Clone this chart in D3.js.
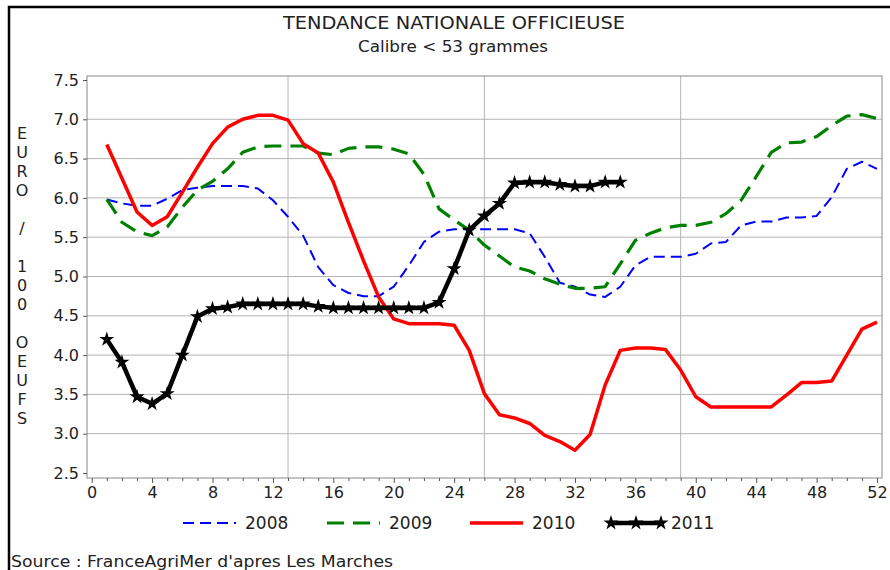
<!DOCTYPE html>
<html>
<head>
<meta charset="utf-8">
<script src="https://cdn.jsdelivr.net/npm/d3@7"></script>
<style>
  body { margin: 0; background: #fff; }
  text { font-family: "DejaVu Sans", sans-serif; fill: #222; }
</style>
</head>
<body>
<div id="chart"></div>
<script>
// weeks and prices (euro / 100 eggs)
var weeks = [1,2,3,4,5,6,7,8,9,10,11,12,13,14,15,16,17,18,19,20,21,22,23,24,25,26,
             27,28,29,30,31,32,33,34,35,36,37,38,39,40,41,42,43,44,45,46,47,48,49,50,51,52];

var v2008 = [5.98,5.93,5.9,5.9,5.99,6.1,6.13,6.15,6.15,6.15,
             6.12,5.97,5.76,5.52,5.12,4.89,4.79,4.75,4.75,4.87,
             5.14,5.44,5.57,5.6,5.6,5.6,5.6,5.6,5.55,5.25,
             4.92,4.87,4.77,4.74,4.87,5.14,5.25,5.25,5.25,5.29,
             5.42,5.44,5.65,5.7,5.7,5.75,5.75,5.77,6.01,6.37,
             6.46,6.37];
var v2009 = [5.98,5.69,5.57,5.52,5.63,5.88,6.1,6.21,6.37,6.58,
             6.65,6.66,6.66,6.66,6.57,6.55,6.63,6.65,6.65,6.62,
             6.56,6.3,5.86,5.72,5.59,5.4,5.26,5.12,5.07,4.97,
             4.9,4.85,4.85,4.87,5.16,5.46,5.55,5.62,5.65,5.65,
             5.69,5.8,5.97,6.27,6.58,6.7,6.71,6.78,6.92,7.04,
             7.06,7.01];
var v2010 = [6.68,6.25,5.82,5.65,5.76,6.07,6.39,6.69,6.9,7.0,
             7.05,7.05,6.99,6.69,6.57,6.2,5.69,5.2,4.74,4.46,
             4.4,4.4,4.4,4.38,4.06,3.51,3.24,3.2,3.13,2.98,
             2.9,2.79,2.99,3.62,4.06,4.09,4.09,4.07,3.81,3.47,
             3.34,3.34,3.34,3.34,3.34,3.49,3.65,3.65,3.67,4.0,
             4.33,4.42];
var v2011 = [4.2,3.91,3.47,3.38,3.51,4.0,4.49,4.59,4.61,4.65,
             4.65,4.65,4.65,4.65,4.62,4.6,4.6,4.6,4.6,4.6,
             4.6,4.6,4.67,5.1,5.59,5.77,5.93,6.19,6.2,6.2,
             6.17,6.15,6.15,6.2,6.2];

var xTicks = [0,4,8,12,16,20,24,28,32,36,40,44,48,52];
var yTicks = [2.5,3.0,3.5,4.0,4.5,5.0,5.5,6.0,6.5,7.0,7.5];
var vGrid = [13,26,39];
var yLabel = "EURO / 100 OEUFS";

var w = 890, h = 570;

var svg = d3.select('#chart').append('svg')
  .attr('width', w)
  .attr('height', h);

svg.append('rect').attr('width', w).attr('height', h).attr('fill', 'white');

// outer frame (left + top only visible)
svg.append('path')
  .attr('d', 'M9,' + (h + 5) + ' L9,7 L' + (w + 5) + ',7')
  .attr('fill', 'none')
  .attr('stroke', '#000')
  .attr('stroke-width', 2.5);

var x = d3.scaleLinear().domain([0, 52]).range([91.7, 877]);
var y = d3.scaleLinear().domain([2.5, 7.5]).range([473, 80]);

var frame = {left: 87, right: 882, top: 76, bottom: 478};

// grid
svg.append('g').selectAll('line.h')
  .data(yTicks.filter(function(d) { return d > 2.5 && d < 7.5; }))
  .enter().append('line')
  .attr('x1', frame.left).attr('x2', frame.right)
  .attr('y1', function(d) { return y(d); })
  .attr('y2', function(d) { return y(d); })
  .attr('stroke', '#b4b4b4').attr('stroke-width', 1);

svg.append('g').selectAll('line.v')
  .data(vGrid)
  .enter().append('line')
  .attr('y1', frame.top).attr('y2', frame.bottom)
  .attr('x1', function(d) { return x(d); })
  .attr('x2', function(d) { return x(d); })
  .attr('stroke', '#b4b4b4').attr('stroke-width', 1);

// plot frame
svg.append('rect')
  .attr('x', frame.left).attr('y', frame.top)
  .attr('width', frame.right - frame.left)
  .attr('height', frame.bottom - frame.top)
  .attr('fill', 'none')
  .attr('stroke', '#888').attr('stroke-width', 1);

// x axis
var xAxis = svg.append('g')
  .attr('transform', 'translate(0,' + frame.bottom + ')')
  .call(d3.axisBottom(x).tickValues(xTicks).tickSize(5).tickPadding(4));
xAxis.select('.domain').remove();
xAxis.selectAll('line').attr('stroke', '#555');
xAxis.selectAll('text').style('font-size', '16px').attr('fill', '#222');

var minor = svg.append('g')
  .attr('transform', 'translate(0,' + frame.bottom + ')')
  .call(d3.axisBottom(x).tickValues(weeks.filter(function(d) { return d % 4 != 0; }))
        .tickSize(3).tickFormat(''));
minor.select('.domain').remove();
minor.selectAll('line').attr('stroke', '#555');

// y axis
var yAxis = svg.append('g')
  .attr('transform', 'translate(' + frame.left + ',0)')
  .call(d3.axisLeft(y).tickValues(yTicks).tickSize(4).tickPadding(4).tickFormat(d3.format('.1f')));
yAxis.select('.domain').remove();
yAxis.selectAll('line').attr('stroke', '#555');
yAxis.selectAll('text').style('font-size', '16px').attr('fill', '#222');

// y label, stacked letters
svg.append('g').selectAll('text')
  .data(yLabel.split(''))
  .enter().append('text')
  .attr('x', 22)
  .attr('y', function(d, i) { return 133 + i * 19; })
  .attr('text-anchor', 'middle')
  .attr('dy', '0.35em')
  .style('font-size', '16px')
  .text(function(d) { return d; });

// titles
svg.append('text')
  .attr('x', 454).attr('y', 29)
  .attr('text-anchor', 'middle')
  .style('font-size', '18px')
  .attr('textLength', 342).attr('lengthAdjust', 'spacingAndGlyphs')
  .text('TENDANCE NATIONALE OFFICIEUSE');

svg.append('text')
  .attr('x', 453).attr('y', 52)
  .attr('text-anchor', 'middle')
  .style('font-size', '15px')
  .attr('textLength', 190).attr('lengthAdjust', 'spacingAndGlyphs')
  .text('Calibre < 53 grammes');

svg.append('text')
  .attr('x', 11).attr('y', 567)
  .style('font-size', '15px')
  .attr('textLength', 382).attr('lengthAdjust', 'spacingAndGlyphs')
  .text("Source : FranceAgriMer d'apres Les Marches");

// series
var series = [
  {name: '2008', values: v2008, color: '#0000ff', width: 2, dash: '11,6', star: false},
  {name: '2009', values: v2009, color: '#008000', width: 3.2, dash: '17,9', star: false},
  {name: '2010', values: v2010, color: '#ff0000', width: 3.5, dash: null, star: false},
  {name: '2011', values: v2011, color: '#000000', width: 4.5, dash: null, star: true}
];

var line = d3.line()
  .x(function(d) { return x(d[0]); })
  .y(function(d) { return y(d[1]); });

var star = d3.symbol().type(d3.symbolStar).size(70);

series.forEach(function(s) {
  var pts = s.values.map(function(v, i) { return [weeks[i], v]; });
  svg.append('path')
    .datum(pts)
    .attr('d', line)
    .attr('fill', 'none')
    .attr('stroke', s.color)
    .attr('stroke-width', s.width)
    .attr('stroke-dasharray', s.dash)
    .attr('stroke-linejoin', 'round');
  if (s.star) {
    svg.append('g').selectAll('path')
      .data(pts)
      .enter().append('path')
      .attr('d', star)
      .attr('transform', function(d) { return 'translate(' + x(d[0]) + ',' + y(d[1]) + ')'; })
      .attr('fill', s.color);
  }
});

// legend
var legX = [183, 327, 470, 609];
var legY = 523;
series.forEach(function(s, i) {
  var g = svg.append('g').attr('transform', 'translate(' + legX[i] + ',' + legY + ')');
  g.append('line')
    .attr('x1', 0).attr('x2', 53)
    .attr('stroke', s.color)
    .attr('stroke-width', s.width)
    .attr('stroke-dasharray', s.dash);
  if (s.star) {
    g.selectAll('path').data([2, 27, 52]).enter().append('path')
      .attr('d', star)
      .attr('transform', function(d) { return 'translate(' + d + ',0)'; })
      .attr('fill', s.color);
  }
  g.append('text')
    .attr('x', 62).attr('dy', '0.36em')
    .style('font-size', '17px')
    .text(s.name);
});
</script>
</body>
</html>
